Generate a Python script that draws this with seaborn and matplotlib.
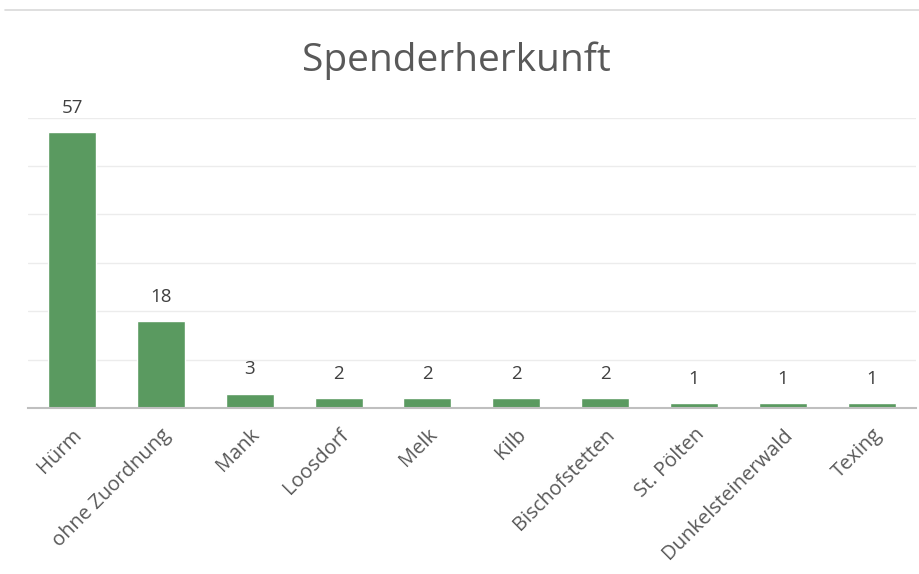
import matplotlib
matplotlib.use("Agg")
import matplotlib.pyplot as plt
import seaborn as sns
import pandas as pd
from matplotlib.lines import Line2D

# Data
orte = ["Hürm", "ohne Zuordnung", "Mank", "Loosdorf", "Melk", "Kilb",
        "Bischofstetten", "St. Pölten", "Dunkelsteinerwald", "Texing"]
anzahl = [57, 18, 3, 2, 2, 2, 2, 1, 1, 1]

df = pd.DataFrame({"Ort": orte, "Anzahl": anzahl})

sns.set_style("white")
plt.rcParams["font.family"] = ["Open Sans", "DejaVu Sans"]

fig = plt.figure(figsize=(9.19, 5.74), dpi=100)
ax = fig.add_axes([0.03, 0.289, 0.967, 0.506])

sns.barplot(data=df, x="Ort", y="Anzahl", color="#5a9a60", width=0.54,
            saturation=1, ax=ax)

ax.set_ylim(0, 60)
ax.set_yticks(range(0, 61, 10))
ax.set_yticklabels([])
ax.tick_params(axis="both", length=0)
ax.grid(axis="y", color="#ececec", linewidth=1)
ax.set_axisbelow(True)
for s in ["top", "right", "left"]:
    ax.spines[s].set_visible(False)
ax.spines["bottom"].set_color("#bfbfbf")
ax.spines["bottom"].set_linewidth(1.5)
ax.set_xlim(-0.5, len(orte) - 0.5)
ax.set_xlabel("")
ax.set_ylabel("")

# value labels
for i, v in enumerate(anzahl):
    ax.annotate(str(v), (i, v), xytext=(0, 11), textcoords="offset points",
                ha="center", va="bottom", fontsize=13.5, color="#404040")

plt.setp(ax.get_xticklabels(), rotation=45, ha="right",
         rotation_mode="anchor", fontsize=14.5, color="#595959")
ax.tick_params(axis="x", pad=12)

fig.text(0.497, 0.895, "Spenderherkunft", ha="center", va="center",
         fontsize=28, color="#595959")

# thin line at top of the picture
fig.add_artist(Line2D([0.005, 1.0], [0.983, 0.983], color="#d9d9d9",
                      linewidth=1.2, transform=fig.transFigure))

fig.savefig("out.png", dpi=100, facecolor="white")
